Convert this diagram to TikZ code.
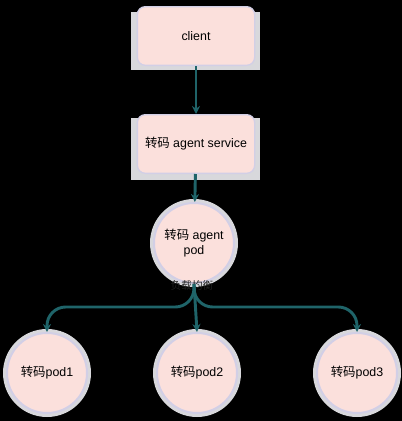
\documentclass[tikz,border=0pt]{standalone}
\usepackage{fontspec}
\setmainfont{Liberation Sans}
\newfontfamily\cjk{Noto Sans CJK SC}
\usetikzlibrary{arrows.meta,calc}
\definecolor{pinkfill}{HTML}{FBE0DC}
\definecolor{lavborder}{HTML}{D2CFE6}
\definecolor{backgray}{HTML}{D8D8DC}
\definecolor{tealline}{HTML}{1F6469}
\tikzset{
  boxnode/.style={draw=lavborder, line width=1pt, fill=pinkfill, rounded corners=6pt,
    minimum width=88pt, minimum height=44pt, inner sep=0pt, font=\fontsize{9.3pt}{11pt}\selectfont},
  circnode/.style={draw=lavborder, line width=1.5pt, fill=pinkfill, circle,
    minimum size=60pt, inner sep=0pt, align=center, font=\fontsize{9.3pt}{11pt}\selectfont},
  edge/.style={draw=tealline, line width=2.2pt, -{Stealth[length=6pt,width=6pt]}},
}
\begin{document}
\begin{tikzpicture}[x=0.75pt,y=-0.75pt]
\useasboundingbox (0,0) rectangle (402,421);
\fill[black] (0,0) rectangle (402,421);
% gray backdrops
\fill[backgray] (131,12) rectangle (260,70);
\fill[backgray] (131,118) rectangle (260,180);
\foreach \cx/\cy in {194/243, 47/373, 197/373, 357/373}
  \fill[backgray] (\cx,\cy) circle [radius=44];
% nodes
\node[boxnode] (client) at (196,36) {client};
\node[boxnode] (svc) at (196,144) {{\cjk 转码} agent service};
\node[circnode] (apod) at (194,243) {{\cjk 转码} agent\\pod};
\node[circnode] (p1) at (47,373) {{\cjk 转码}pod1};
\node[circnode] (p2) at (197,373) {{\cjk 转码}pod2};
\node[circnode] (p3) at (357,373) {{\cjk 转码}pod3};
\node[font=\cjk\fontsize{8pt}{9pt}\selectfont, text=black!88!white, inner sep=1pt] (lbl) at (192,285) {负载均衡};
% edges
\draw[edge] (client) -- (svc);
\draw[edge] (svc) -- (apod);
\draw[edge] (apod.south) -- (p2.north);
\draw[edge, rounded corners=14pt] (apod.south) |- ($(p1.north)+(0,-25)$) -- (p1.north);
\draw[edge, rounded corners=14pt] (apod.south) |- ($(p3.north)+(0,-25)$) -- (p3.north);
\end{tikzpicture}
\end{document}
